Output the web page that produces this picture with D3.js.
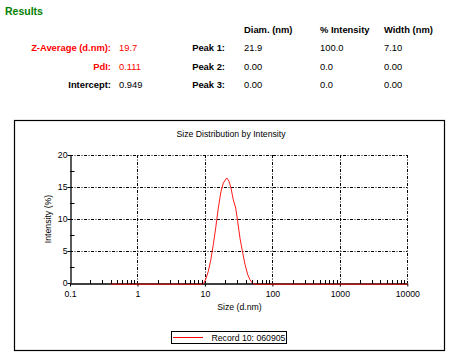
<!DOCTYPE html>
<html><head><meta charset="utf-8">
<script src="https://cdn.jsdelivr.net/npm/d3@7"></script>
<style>
body{margin:0;background:#fff;}
svg{display:block;font-family:"Liberation Sans",Arial,sans-serif;}
</style></head><body>
<svg id="c" width="454" height="360"></svg>
<script>
// ---- data ----
const headers = ["Diam. (nm)", "% Intensity", "Width (nm)"];
const leftLabels = ["Z-Average (d.nm):", "PdI:", "Intercept:"];
const leftValues = ["19.7", "0.111", "0.949"];
const leftColors = ["#ff0000", "#ff0000", "#000000"];
const peakLabels = ["Peak 1:", "Peak 2:", "Peak 3:"];
const peakDiam = ["21.9", "0.00", "0.00"];
const peakIntensity = ["100.0", "0.0", "0.0"];
const peakWidth = ["7.10", "0.00", "0.00"];

const sizes = [0.4, 9.0, 9.69, 10.38, 11.22, 12.18, 13.31, 14.45, 15.79, 17.31, 18.73, 21.03, 22.75, 24.36, 26.35, 28.59, 30.61, 33.11, 35.83, 39.28, 43.07, 46.59, 50.40, 53.95, 10000];
const intensity = [0, 0, 0.2, 0.9, 2.0, 3.7, 6.2, 8.8, 11.9, 14.5, 15.8, 16.6, 16.1, 15.0, 13.2, 11.9, 9.8, 7.2, 5.2, 3.1, 1.5, 0.7, 0.2, 0, 0];

const xTickValues = [0.1, 1, 10, 100, 1000, 10000];
const xTickLabels = ["0.1", "1", "10", "100", "1000", "10000"];
const yTickValues = [0, 5, 10, 15, 20];
const seriesName = "Record 10: 060905";

// ---- drawing ----
const svg = d3.select("#c");
const FS = 9.4;

svg.append("text").attr("x", 5).attr("y", 15).attr("fill", "#008000")
  .attr("font-weight", "bold").attr("font-size", 10.5).text("Results");

const colX = [244, 320, 384];
headers.forEach((h, i) => svg.append("text").attr("x", colX[i]).attr("y", 33)
  .attr("font-weight", "bold").attr("font-size", FS).text(h));
const rowY = [51, 69.5, 87.5];
rowY.forEach((y, i) => {
  svg.append("text").attr("x", 111).attr("y", y).attr("text-anchor", "end")
    .attr("font-weight", "bold").attr("font-size", FS).attr("fill", leftColors[i]).text(leftLabels[i]);
  svg.append("text").attr("x", 119).attr("y", y).attr("font-size", FS)
    .attr("fill", leftColors[i]).text(leftValues[i]);
  svg.append("text").attr("x", 225).attr("y", y).attr("text-anchor", "end")
    .attr("font-weight", "bold").attr("font-size", FS).text(peakLabels[i]);
  svg.append("text").attr("x", colX[0]).attr("y", y).attr("font-size", FS).text(peakDiam[i]);
  svg.append("text").attr("x", colX[1]).attr("y", y).attr("font-size", FS).text(peakIntensity[i]);
  svg.append("text").attr("x", colX[2]).attr("y", y).attr("font-size", FS).text(peakWidth[i]);
});

// outer frame
svg.append("rect").attr("x", 14.5).attr("y", 120.5).attr("width", 430).attr("height", 230)
  .attr("fill", "none").attr("stroke", "#000").attr("stroke-width", 1.2);

svg.append("text").attr("x", 231).attr("y", 136.5).attr("text-anchor", "middle")
  .attr("font-size", 8.7).text("Size Distribution by Intensity");

const x = d3.scaleLog().domain([0.1, 10000]).range([70, 407.3]);
const y = d3.scaleLinear().domain([0, 20]).range([283, 155]);

const dash = "3,1.5,1,1.5";
// grid
const g = svg.append("g");
[1, 10, 100, 1000, 10000].forEach(v => g.append("line")
  .attr("x1", Math.round(x(v)) + 0.5).attr("x2", Math.round(x(v)) + 0.5)
  .attr("y1", y(20)).attr("y2", y(0))
  .attr("stroke", "#000").attr("stroke-dasharray", dash));
[5, 10, 15, 20].forEach(v => g.append("line")
  .attr("y1", Math.round(y(v)) + 0.5).attr("y2", Math.round(y(v)) + 0.5)
  .attr("x1", x(0.1)).attr("x2", x(10000))
  .attr("stroke", "#000").attr("stroke-dasharray", dash));

// x axis
const xAxis = d3.axisBottom(x).tickValues(xTickValues)
  .tickFormat((d, i) => xTickLabels[i]).tickSize(3).tickSizeOuter(0);
const gx = svg.append("g").attr("transform", "translate(0,283.5)").call(xAxis);
gx.select(".domain").attr("stroke-width", 1.3);
gx.selectAll("text").attr("font-size", 8.7).attr("font-family", "Liberation Sans, Arial, sans-serif").attr("dy", "0.9em");

// data line (drawn above axis, slightly below baseline so it shows as in reference)
const line = d3.line().x((d, i) => x(sizes[i])).y(d => y(d));
svg.append("path").datum(intensity).attr("d", line)
  .attr("fill", "none").attr("stroke", "#ff0000").attr("stroke-width", 1)
  .attr("stroke-opacity", 0.9)
  .attr("transform", "translate(0,1.2)");

// minor x ticks (inward)
const minorX = [];
for (let e = -1; e < 4; e++) for (let m = 2; m <= 9; m++) minorX.push(m * Math.pow(10, e));
svg.append("g").selectAll("line").data(minorX).join("line")
  .attr("x1", d => Math.round(x(d)) + 0.5).attr("x2", d => Math.round(x(d)) + 0.5)
  .attr("y1", 284).attr("y2", 280).attr("stroke", "#000");

// y axis
const yAxis = d3.axisLeft(y).tickValues(yTickValues).tickSize(3).tickSizeOuter(0);
const gy = svg.append("g").attr("transform", "translate(70.5,0)").call(yAxis);
gy.select(".domain").attr("stroke-width", 1.3);
gy.selectAll("text").attr("font-size", 8.7).attr("font-family", "Liberation Sans, Arial, sans-serif").attr("x", -3);
svg.append("g").selectAll("line").data([2.5, 7.5, 12.5, 17.5]).join("line")
  .attr("y1", d => Math.round(y(d)) + 0.5).attr("y2", d => Math.round(y(d)) + 0.5)
  .attr("x1", 70).attr("x2", 74.5).attr("stroke", "#000");

svg.append("text").attr("transform", "translate(51,219) rotate(-90)")
  .attr("text-anchor", "middle").attr("font-size", 8.7).text("Intensity (%)");
svg.append("text").attr("x", 239.5).attr("y", 310).attr("text-anchor", "middle")
  .attr("font-size", 8.7).text("Size (d.nm)");

// legend
svg.append("rect").attr("x", 171.5).attr("y", 331.5).attr("width", 115).attr("height", 12)
  .attr("fill", "none").attr("stroke", "#000");
svg.append("line").attr("x1", 173).attr("x2", 203).attr("y1", 337.5).attr("y2", 337.5)
  .attr("stroke", "#ff0000");
svg.append("text").attr("x", 211.5).attr("y", 340.8).attr("font-size", 8.7).text(seriesName);
</script>
</body></html>
